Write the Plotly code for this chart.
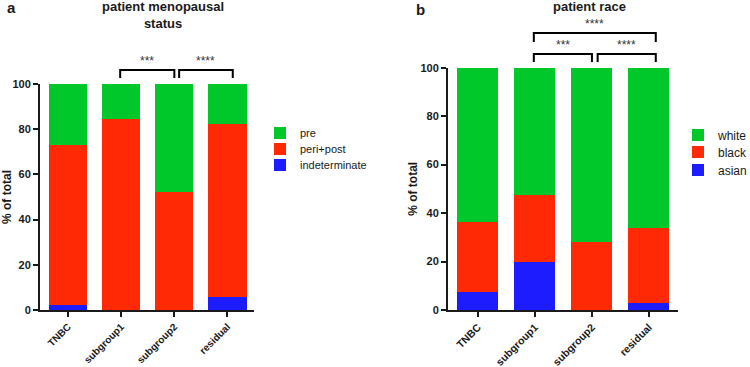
import plotly.graph_objects as go

categories = ["TNBC", "subgroup1", "subgroup2", "residual"]

# panel a: patient menopausal status (% of total)
meno_indeterminate = [2.2, 0, 0, 5.6]
meno_periPost = [71, 84.3, 52.1, 76.9]
meno_pre = [26.8, 15.7, 47.9, 17.5]

# panel b: patient race (% of total)
race_asian = [7.5, 19.9, 0, 2.9]
race_black = [28.8, 27.4, 28.1, 30.8]
race_white = [63.7, 52.7, 71.9, 66.3]

GREEN = "#00C82A"
RED = "#FF2A05"
BLUE = "#1C1CFF"
FONT = "Liberation Sans"
INK = "#1a1a1a"

fig = go.Figure()

def add(x, y, name, color, xa, ya, legend):
    fig.add_trace(go.Bar(x=x, y=y, name=name, marker=dict(color=color, line=dict(width=0)),
                         xaxis=xa, yaxis=ya, legend=legend, width=0.72))

add(categories, meno_indeterminate, "indeterminate", BLUE, "x", "y", "legend3")
add(categories, meno_periPost, "peri+post", RED, "x", "y", "legend2")
add(categories, meno_pre, "pre", GREEN, "x", "y", "legend")
add(categories, race_asian, "asian", BLUE, "x2", "y2", "legend6")
add(categories, race_black, "black", RED, "x2", "y2", "legend5")
add(categories, race_white, "white", GREEN, "x2", "y2", "legend4")

W, H = 750, 367
def px(xp): return xp / W
def py(yp): return 1 - yp / H

def axis_common(fs):
    return dict(showline=True, linecolor=INK, linewidth=2, ticks="outside", tickwidth=2,
                tickcolor=INK, ticklen=5, showgrid=False, zeroline=False, automargin=False,
                tickfont=dict(family=FONT, size=fs, color=INK, weight="bold"))

def leg(xp, yp, fs):
    return dict(x=px(xp), y=py(yp), xanchor="left", yanchor="middle",
                font=dict(family=FONT, size=fs, color=INK), bgcolor="rgba(0,0,0,0)", itemwidth=30)

fig.update_layout(
    width=W, height=H, margin=dict(l=0, r=0, t=0, b=0, autoexpand=False),
    plot_bgcolor="white", paper_bgcolor="white", barmode="stack",
    font=dict(family=FONT, color=INK),
    xaxis=dict(domain=[px(40), px(254)], range=[-0.53, 3.5], tickangle=-45, anchor="y", **axis_common(10)),
    yaxis=dict(domain=[py(310), py(84)], range=[0, 100], dtick=20, anchor="x",
               title=dict(text="% of total", font=dict(family=FONT, size=12, weight="bold"), standoff=6),
               **axis_common(11)),
    xaxis2=dict(domain=[px(448), px(678)], range=[-0.526, 3.51], tickangle=-45, anchor="y2", **axis_common(10.5)),
    yaxis2=dict(domain=[py(310), py(67.7)], range=[0, 100], dtick=20, anchor="x2",
                title=dict(text="% of total", font=dict(family=FONT, size=12, weight="bold"), standoff=0),
                **axis_common(11)),
    legend=leg(260, 133, 11),
    legend2=leg(260, 149, 11),
    legend3=leg(260, 165, 11),
    legend4=leg(678, 135, 12),
    legend5=leg(678, 152, 12),
    legend6=leg(678, 170, 12),
    showlegend=True,
)

# significance brackets
def bracket(xref, x0, x1, ytop, ybot, label):
    line = dict(color="black", width=2)
    fig.add_shape(type="path", xref=xref, yref="paper",
                  path=f"M {x0},{ybot} L {x0},{ytop} L {x1},{ytop} L {x1},{ybot}", line=line)
    fig.add_annotation(x=(x0 + x1) / 2, y=ytop, xref=xref, yref="paper", text=label, showarrow=False,
                       yanchor="bottom", yshift=0, font=dict(family=FONT, size=12, color="#333"))

bracket("x", 0.98, 2.0, py(70), py(78), "***")
bracket("x", 2.09, 3.1, py(70), py(78), "****")
bracket("x2", 0.98, 2.0, py(54), py(62), "***")
bracket("x2", 2.1, 3.12, py(54), py(62), "****")
bracket("x2", 0.98, 3.12, py(33), py(42), "****")

# titles and panel letters
fig.add_annotation(x=px(163), y=py(15), xref="paper", yref="paper", showarrow=False,
                   text="patient menopausal<br>status", font=dict(family=FONT, size=13, weight="bold"),
                   xanchor="center", yanchor="middle")
fig.add_annotation(x=px(589), y=py(7), xref="paper", yref="paper", showarrow=False,
                   text="patient race", font=dict(family=FONT, size=13, weight="bold"),
                   xanchor="center", yanchor="middle")
fig.add_annotation(x=px(11), y=py(8), xref="paper", yref="paper", showarrow=False,
                   text="a", font=dict(family=FONT, size=15, weight="bold"), xanchor="center", yanchor="middle")
fig.add_annotation(x=px(420), y=py(9), xref="paper", yref="paper", showarrow=False,
                   text="b", font=dict(family=FONT, size=15, weight="bold"), xanchor="center", yanchor="middle")

fig.write_html("out.html", config={"displayModeBar": False},
               post_script="document.body.style.margin='0';document.body.style.padding='0';")
